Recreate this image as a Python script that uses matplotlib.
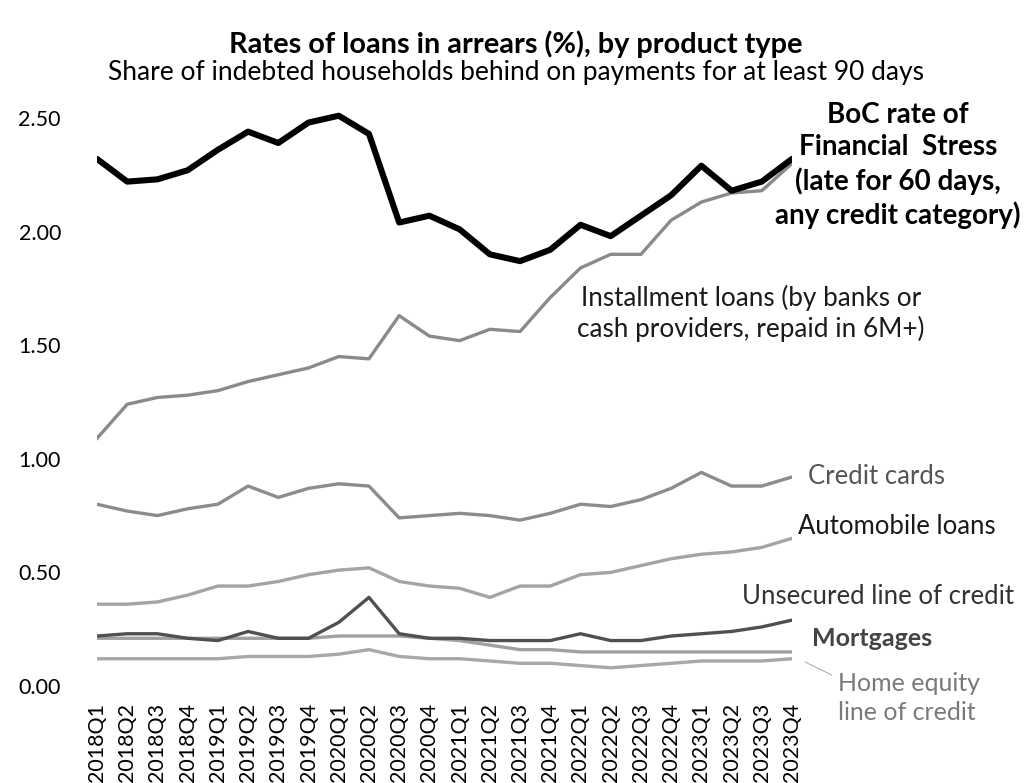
import matplotlib
matplotlib.use("Agg")
import matplotlib.pyplot as plt

plt.rcParams['font.family'] = ['Lato', 'DejaVu Sans']

quarters = [f"{y}Q{q}" for y in range(2018, 2024) for q in range(1, 5)]

boc_stress = [2.32, 2.22, 2.23, 2.27, 2.36, 2.44, 2.39, 2.48, 2.51, 2.43,
              2.04, 2.07, 2.01, 1.90, 1.87, 1.92, 2.03, 1.98, 2.07, 2.16,
              2.29, 2.18, 2.22, 2.32]
installment = [1.09, 1.24, 1.27, 1.28, 1.30, 1.34, 1.37, 1.40, 1.45, 1.44,
               1.63, 1.54, 1.52, 1.57, 1.56, 1.71, 1.84, 1.90, 1.90, 2.05,
               2.13, 2.17, 2.18, 2.30]
credit_cards = [0.80, 0.77, 0.75, 0.78, 0.80, 0.88, 0.83, 0.87, 0.89, 0.88,
                0.74, 0.75, 0.76, 0.75, 0.73, 0.76, 0.80, 0.79, 0.82, 0.87,
                0.94, 0.88, 0.88, 0.92]
auto_loans = [0.36, 0.36, 0.37, 0.40, 0.44, 0.44, 0.46, 0.49, 0.51, 0.52,
              0.46, 0.44, 0.43, 0.39, 0.44, 0.44, 0.49, 0.50, 0.53, 0.56,
              0.58, 0.59, 0.61, 0.65]
unsecured_loc = [0.22, 0.23, 0.23, 0.21, 0.20, 0.24, 0.21, 0.21, 0.28, 0.39,
                 0.23, 0.21, 0.21, 0.20, 0.20, 0.20, 0.23, 0.20, 0.20, 0.22,
                 0.23, 0.24, 0.26, 0.29]
mortgages = [0.21, 0.21, 0.21, 0.21, 0.21, 0.21, 0.21, 0.21, 0.22, 0.22,
             0.22, 0.21, 0.20, 0.18, 0.16, 0.16, 0.15, 0.15, 0.15, 0.15,
             0.15, 0.15, 0.15, 0.15]
heloc = [0.12, 0.12, 0.12, 0.12, 0.12, 0.13, 0.13, 0.13, 0.14, 0.16,
         0.13, 0.12, 0.12, 0.11, 0.10, 0.10, 0.09, 0.08, 0.09, 0.10,
         0.11, 0.11, 0.11, 0.12]

x = list(range(len(quarters)))

fig = plt.figure(figsize=(10.31, 7.83), dpi=100)
ax = fig.add_axes([97 / 1031, 1 - 686 / 783, (792 - 97) / 1031, 2.6 * 227.2 / 783])

ax.plot(x, heloc, color='#a8a8a8', lw=2.4)
ax.plot(x, mortgages, color='#a0a0a0', lw=2.4)
ax.plot(x, unsecured_loc, color='#505050', lw=2.4)
ax.plot(x, auto_loans, color='#a4a4a4', lw=2.4)
ax.plot(x, credit_cards, color='#8c8c8c', lw=2.4)
ax.plot(x, installment, color='#8a8a8a', lw=2.4)
ax.plot(x, boc_stress, color='black', lw=4.4, solid_capstyle='round')

ax.set_xlim(0, 23)
ax.set_ylim(0, 2.6)
ax.set_yticks([0, 0.5, 1.0, 1.5, 2.0, 2.5])
ax.set_yticklabels(['0.00', '0.50', '1.00', '1.50', '2.00', '2.50'])
ax.set_xticks(x)
ax.set_xticklabels(quarters, rotation=90)
ax.tick_params(axis='y', length=0, pad=26, labelsize=15.5)
ax.tick_params(axis='x', length=0, pad=12, labelsize=15.5)
for s in ax.spines.values():
    s.set_visible(False)

# series labels on the right
ax.text(26.5, 2.29, "BoC rate of\nFinancial  Stress\n(late for 60 days,\nany credit category)",
        ha='center', va='center', fontsize=20, fontweight='bold', linespacing=1.3,
        clip_on=False)
ax.text(21.64, 1.64, "Installment loans (by banks or\ncash providers, repaid in 6M+)",
        ha='center', va='center', fontsize=18.8, linespacing=1.22, color='#1a1a1a')
ax.text(23.53, 0.92, "Credit cards", ha='left', va='center', fontsize=18.5,
        color='#555555', clip_on=False)
ax.text(23.2, 0.704, "Automobile loans", ha='left', va='center', fontsize=18.5,
        color='#1a1a1a', clip_on=False)
ax.text(21.34, 0.396, "Unsecured line of credit", ha='left', va='center', fontsize=18.5,
        color='#333333', clip_on=False)
ax.text(23.66, 0.211, "Mortgages", ha='left', va='center', fontsize=18,
        color='#444444', fontweight='bold', clip_on=False)
ax.text(24.52, -0.053, "Home equity\nline of credit", ha='left', va='center',
        fontsize=18, color='#7a7a7a', linespacing=1.36, clip_on=False)
ax.annotate("", xy=(23.43, 0.106), xytext=(24.32, 0.048), annotation_clip=False,
            arrowprops=dict(arrowstyle='-', color='#b0b0b0', lw=0.8,
                            shrinkA=0, shrinkB=0))

fig.text(0.5, 0.943, "Rates of loans in arrears (%), by product type",
         ha='center', va='center', fontsize=20.8, fontweight='bold')
fig.text(0.5, 0.908, "Share of indebted households behind on payments for at least 90 days",
         ha='center', va='center', fontsize=19)

fig.savefig("out.png", dpi=100)
